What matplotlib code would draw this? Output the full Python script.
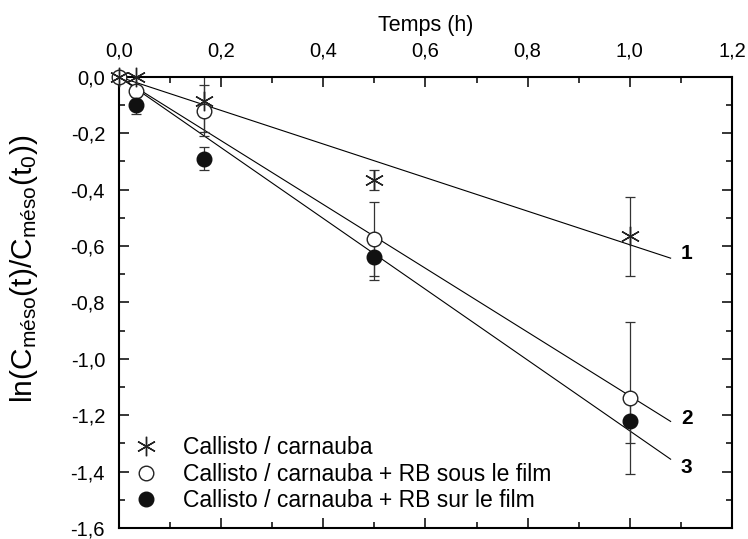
import numpy as np
import matplotlib.pyplot as plt
from matplotlib.ticker import MultipleLocator, FuncFormatter

plt.rcParams['font.family'] = ['Liberation Sans', 'DejaVu Sans']
plt.rcParams['mathtext.fontset'] = 'custom'
plt.rcParams['mathtext.rm'] = 'Liberation Sans'
plt.rcParams['mathtext.default'] = 'regular'

# temps (h)
t1 = [0.0, 0.033, 0.167, 0.5, 1.0]
y1 = [0.0, 0.0, -0.085, -0.365, -0.565]
e1 = [0.0, 0.05, 0.11, 0.035, 0.14]

t2 = [0.0, 0.033, 0.167, 0.5, 1.0]
y2 = [0.0, -0.05, -0.12, -0.575, -1.14]
e2 = [0.0, 0.0, 0.09, 0.13, 0.27]

t3 = [0.033, 0.167, 0.5, 1.0]
y3 = [-0.10, -0.29, -0.64, -1.22]
e3 = [0.03, 0.04, 0.08, 0.08]

# droites de regression (extremites)
fit_x = [0.0, 1.08]
fit1 = [0.0, -0.643]
fit2 = [0.0, -1.222]
fit3 = [0.0, -1.356]

labels = ['Callisto / carnauba',
          'Callisto / carnauba + RB sous le film',
          'Callisto / carnauba + RB sur le film']

fig = plt.figure(figsize=(7.48, 5.39), dpi=100)
ax = fig.add_axes([0.159, 0.0204, 0.8195, 0.837])

lw = 0.8
ax.plot(fit_x, fit1, 'k-', lw=lw)
ax.plot(fit_x, fit2, 'k-', lw=lw)
ax.plot(fit_x, fit3, 'k-', lw=lw)

ekw = dict(fmt='none', ecolor='#333333', elinewidth=0.9, capsize=3.3, capthick=0.9)
ax.errorbar(t1, y1, yerr=e1, **ekw)
ax.errorbar(t2, y2, yerr=e2, **ekw)
ax.errorbar(t3, y3, yerr=e3, **ekw)

ax.plot(t1, y1, ls='none', marker=(6, 2, 0), ms=14, mec='#222222', mew=1.0,
        label=labels[0], clip_on=False, zorder=4)
ax.plot(t2, y2, ls='none', marker='o', ms=10.5, mfc='white', mec='#222222', mew=1.0,
        label=labels[1], clip_on=False, zorder=3)
ax.plot(t3, y3, ls='none', marker='o', ms=10.5, mfc='#111111', mec='#111111',
        label=labels[2], clip_on=False, zorder=3)

ax.text(1.10, -0.625, '1', fontsize=15, fontweight='bold', va='center', ha='left')
ax.text(1.10, -1.21, '2', fontsize=15, fontweight='bold', va='center', ha='left')
ax.text(1.10, -1.387, '3', fontsize=15, fontweight='bold', va='center', ha='left')

ax.set_xlim(0, 1.2)
ax.set_ylim(-1.6, 0.0)

fmt = FuncFormatter(lambda v, p: f'{v:.1f}'.replace('.', ','))
ax.xaxis.set_major_locator(MultipleLocator(0.2))
ax.xaxis.set_minor_locator(MultipleLocator(0.1))
ax.yaxis.set_major_locator(MultipleLocator(0.2))
ax.yaxis.set_minor_locator(MultipleLocator(0.1))
ax.xaxis.set_major_formatter(fmt)
ax.yaxis.set_major_formatter(fmt)

ax.xaxis.set_ticks_position('top')
ax.xaxis.set_label_position('top')
ax.tick_params(which='both', direction='in', top=True, bottom=True, left=True, right=True,
               labeltop=True, labelbottom=False, labelleft=True, labelright=False,
               labelsize=14.5, width=1.1)
ax.tick_params(which='major', length=7)
ax.tick_params(which='minor', length=4.5)
ax.tick_params(axis='x', which='major', pad=12)
ax.tick_params(axis='y', which='major', pad=10)
for s in ax.spines.values():
    s.set_linewidth(1.5)

ax.set_xlabel('Temps (h)', fontsize=15.5, labelpad=7)
ax.set_ylabel('ln(C$_{méso}$(t)/C$_{méso}$(t$_{0}$))', fontsize=21.5)
ax.yaxis.set_label_coords(-0.128, 0.575)

ax.legend(loc='lower left', bbox_to_anchor=(0.0, 0.0), frameon=False, fontsize=16.5,
          handlelength=1.0, handletextpad=1.1, labelspacing=0.15, borderaxespad=0.3)

plt.savefig('out.png', dpi=100)
